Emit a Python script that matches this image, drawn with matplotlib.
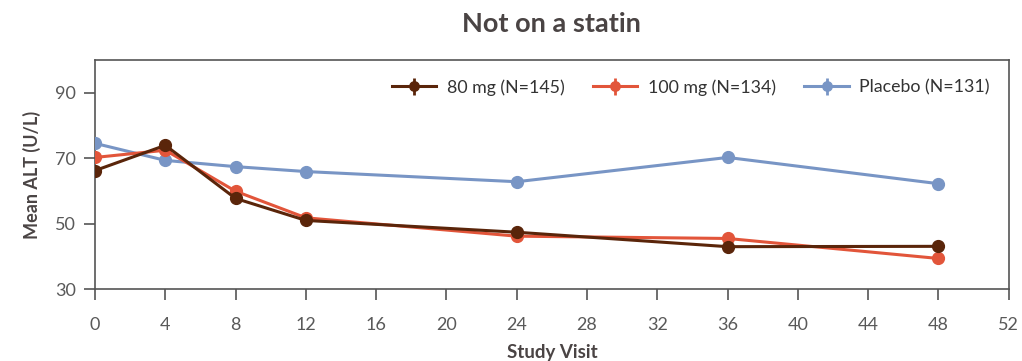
import numpy as np
import matplotlib
matplotlib.use("Agg")
import matplotlib.pyplot as plt

plt.rcParams['font.family'] = ['Lato', 'DejaVu Sans']

# study visit weeks
weeks = [0, 4, 8, 12, 24, 36, 48]

# mean ALT per arm
alt_80 = [66.2, 73.9, 57.7, 51.0, 47.4, 43.0, 43.1]
alt_100 = [70.2, 72.4, 59.9, 51.8, 46.2, 45.5, 39.4]
alt_placebo = [74.5, 69.3, 67.4, 65.9, 62.8, 70.2, 62.2]

# small error bars
err_80 = [1.2, 1.3, 1.2, 1.0, 1.0, 1.0, 1.0]
err_100 = [1.2, 1.3, 1.2, 1.0, 1.0, 1.2, 1.0]
err_placebo = [1.3, 1.6, 1.8, 1.5, 1.2, 1.8, 1.6]

labels = ["80 mg (N=145)", "100 mg (N=134)", "Placebo (N=131)"]
colors = ["#5a250a", "#e2553a", "#7895c5"]

fig = plt.figure(figsize=(10.22, 3.61), dpi=100)
ax = fig.add_axes([0.093, 0.1986, 0.894, 0.636])

series = [(alt_80, err_80), (alt_100, err_100), (alt_placebo, err_placebo)]
order = [2, 1, 0]
handles = [None] * 3
for i in order:
    vals, err = series[i]
    eb = ax.errorbar(weeks, vals, yerr=err, color=colors[i], lw=2.2, marker='o',
                     ms=8.5, elinewidth=2, capsize=0, label=labels[i], zorder=3 + (2 - i))
    handles[i] = eb

ax.set_xlim(0, 52)
ax.set_ylim(30, 100)
ax.set_xticks(np.arange(0, 53, 4))
ax.set_yticks([30, 50, 70, 90])

for s in ax.spines.values():
    s.set_color('#555555')
    s.set_linewidth(1.2)
ax.tick_params(direction='out', length=8, width=1.2, color='#555555',
               labelcolor='#595959', labelsize=13)
ax.tick_params(axis='x', pad=12)
ax.tick_params(axis='y', pad=6)

ax.set_title("Not on a statin", fontsize=19.5, fontweight='bold', color='#4a4444', pad=20)
ax.set_ylabel("Mean ALT (U/L)", fontsize=13, fontweight='bold', color='#4a4444', labelpad=10)
ax.set_xlabel("Study Visit", fontsize=13.5, fontweight='bold', color='#4a4444', labelpad=8)

leg = ax.legend(handles, labels, loc='upper right', ncol=3, frameon=False, fontsize=12.8,
                handlelength=2.5, columnspacing=1.6, handletextpad=0.6, markerscale=0.8,
                bbox_to_anchor=(0.997, 0.985))
for t in leg.get_texts():
    t.set_color('#333333')

fig.savefig("out.png", dpi=100)
